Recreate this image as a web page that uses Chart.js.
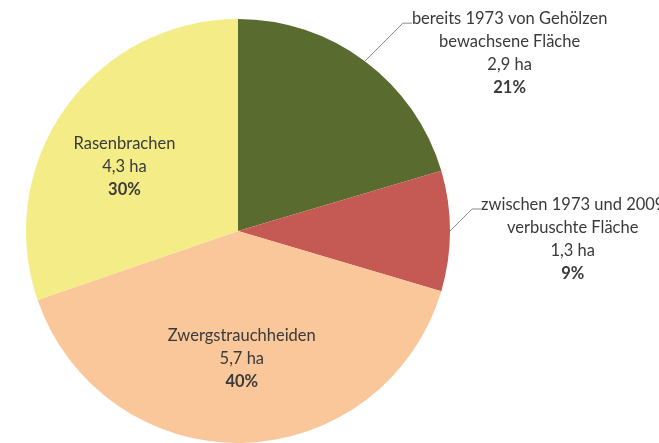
<!DOCTYPE html>
<html>
<head>
<meta charset="utf-8">
<script src="https://cdn.jsdelivr.net/npm/chart.js@4"></script>
<style>
html,body{margin:0;padding:0;background:#fff;}
#wrap{width:659px;height:443px;position:relative;}
</style>
</head>
<body>
<div id="wrap"><canvas id="c" width="659" height="443"></canvas></div>
<script>
const categories = [
  ["bereits 1973 von Gehölzen", "bewachsene Fläche"],
  ["zwischen 1973 und 2009", "verbuschte Fläche"],
  ["Zwergstrauchheiden"],
  ["Rasenbrachen"]
];
const areaHa = [2.9, 1.3, 5.7, 4.3];
const areaText = ["2,9 ha", "1,3 ha", "5,7 ha", "4,3 ha"];
const percentText = ["21%", "9%", "40%", "30%"];
const colors = ["#5a6b2f", "#c55a55", "#f9c799", "#f4ed87"];

const FONT = "Lato, 'Open Sans', sans-serif";
const FS = 16.5;
const LH = 23;
const nudge = [[0,0],[0,0],[1,1],[-10,10]];

const labelPlugin = {
  id: 'pieLabels',
  afterDatasetsDraw(chart) {
    const ctx = chart.ctx;
    const meta = chart.getDatasetMeta(0);
    ctx.save();
    ctx.fillStyle = '#3a3a3a';
    ctx.textAlign = 'center';
    ctx.textBaseline = 'middle';
    meta.data.forEach((arc, i) => {
      const p = arc.getProps(['x','y','startAngle','endAngle','outerRadius'], true);
      const mid = (p.startAngle + p.endAngle) / 2;
      const lines = categories[i].concat([areaText[i], percentText[i]]);
      if (i >= 2) {
        const r = p.outerRadius * 0.6;
        const cx = p.x + Math.cos(mid) * r + nudge[i][0];
        const cy = p.y + Math.sin(mid) * r + nudge[i][1];
        const n = lines.length;
        lines.forEach((t, k) => {
          ctx.font = (k === n - 1 ? 'bold ' : '') + FS + 'px ' + FONT;
          ctx.fillText(t, cx, cy + (k - (n - 1) / 2) * LH);
        });
      } else {
        const ex = p.x + Math.cos(mid) * p.outerRadius;
        const ey = p.y + Math.sin(mid) * p.outerRadius;
        const d = i === 0 ? 38 : 22;
        const bx = ex + d, by = ey - d;
        const hx = bx + 9;
        ctx.strokeStyle = '#8a8a8a';
        ctx.lineWidth = 1;
        ctx.beginPath();
        ctx.moveTo(ex, ey); ctx.lineTo(bx, by); ctx.lineTo(hx, by);
        ctx.stroke();
        ctx.font = FS + 'px ' + FONT;
        const w = ctx.measureText(lines[0]).width;
        const cx = hx + w / 2;
        const n = lines.length;
        lines.forEach((t, k) => {
          ctx.font = (k === n - 1 ? 'bold ' : '') + FS + 'px ' + FONT;
          ctx.fillText(t, cx, by - 4 + k * LH);
        });
      }
    });
    ctx.restore();
  }
};

new Chart(document.getElementById('c'), {
  type: 'pie',
  data: {
    labels: categories.map(c => c.join(' ')),
    datasets: [{
      data: areaHa,
      backgroundColor: colors,
      borderWidth: 0
    }]
  },
  options: {
    responsive: false,
    animation: false,
    layout: { padding: { left: 26, right: 209, top: 19, bottom: 0 } },
    plugins: { legend: { display: false }, tooltip: { enabled: false } }
  },
  plugins: [labelPlugin]
});
</script>
</body>
</html>
